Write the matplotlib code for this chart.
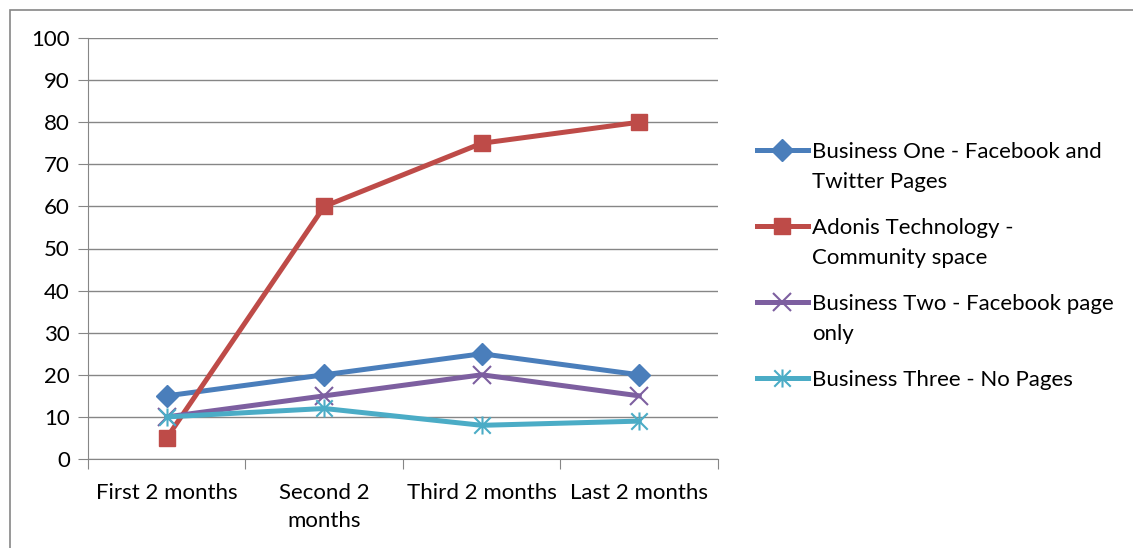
import numpy as np
import matplotlib.pyplot as plt
from matplotlib.path import Path
from matplotlib.patches import Rectangle

plt.rcParams['font.family'] = ['Lato', 'DejaVu Sans']

# data
categories = ["First 2 months", "Second 2\nmonths", "Third 2 months", "Last 2 months"]
business_one = [15, 20, 25, 20]
adonis = [5, 60, 75, 80]
business_two = [10, 15, 20, 15]
business_three = [10, 12, 8, 9]
labels = ["Business One - Facebook and\nTwitter Pages",
          "Adonis Technology -\nCommunity space",
          "Business Two - Facebook page\nonly",
          "Business Three - No Pages"]
colors = ["#4A7EBB", "#BE4B48", "#7D5FA0", "#4BACC6"]

# star marker: x plus vertical bar
star = Path([(-1, -1), (1, 1), (-1, 1), (1, -1), (0, -1.1), (0, 1.1)],
            [Path.MOVETO, Path.LINETO, Path.MOVETO, Path.LINETO, Path.MOVETO, Path.LINETO])

fig = plt.figure(figsize=(11.33, 5.48), dpi=100)
ax = fig.add_axes([88 / 1133, 89 / 548, 630 / 1133, 421 / 548])

x = np.arange(len(categories))
series = [business_one, adonis, business_two, business_three]
markers = ["D", "s", "x", star]
msizes = [11, 11.5, 13, 13]
for vals, lab, col, mk, ms in zip(series, labels, colors, markers, msizes):
    thin = mk == "x" or mk is star
    ax.plot(x, vals, color=col, lw=3.6, marker=mk, ms=ms, mfc=col, mec=col,
            mew=1.5 if thin else 1, label=lab,
            solid_joinstyle="round", clip_on=False)

fs = 16
ax.set_xlim(-0.5, 3.5)
ax.set_ylim(0, 100)
ax.set_yticks(range(0, 101, 10))
ax.set_xticks(np.arange(-0.5, 4, 1))
ax.set_xticklabels([])
ax.set_xticks(x, minor=True)
ax.set_xticklabels(categories, minor=True, linespacing=1.55)
ax.tick_params(axis="x", which="minor", length=0, pad=17, labelsize=fs)
ax.tick_params(axis="x", which="major", length=7, color="#868686", direction="out")
ax.tick_params(axis="y", length=7, color="#868686", labelsize=fs, pad=6)
ax.grid(axis="y", color="#868686", lw=1)
ax.set_axisbelow(True)
for s in ["top", "right"]:
    ax.spines[s].set_visible(False)
for s in ["left", "bottom"]:
    ax.spines[s].set_color("#868686")

leg = ax.legend(loc="upper left", bbox_to_anchor=(1.03, 0.80), frameon=False,
                fontsize=fs, handlelength=2.3, handletextpad=0.2, labelspacing=1.17)
for t in leg.get_texts():
    t.set_linespacing(1.62)
# keep handle level with the first text line
for col in leg._legend_handle_box.get_children():
    for row in col.get_children():
        row.align = "top"

fig.patches.append(Rectangle((10 / 1133, -0.1), 1.2, 1.1 - 10 / 548,
                             transform=fig.transFigure, fill=False,
                             edgecolor="#868686", lw=1.2))

fig.savefig("out.png", dpi=100)
